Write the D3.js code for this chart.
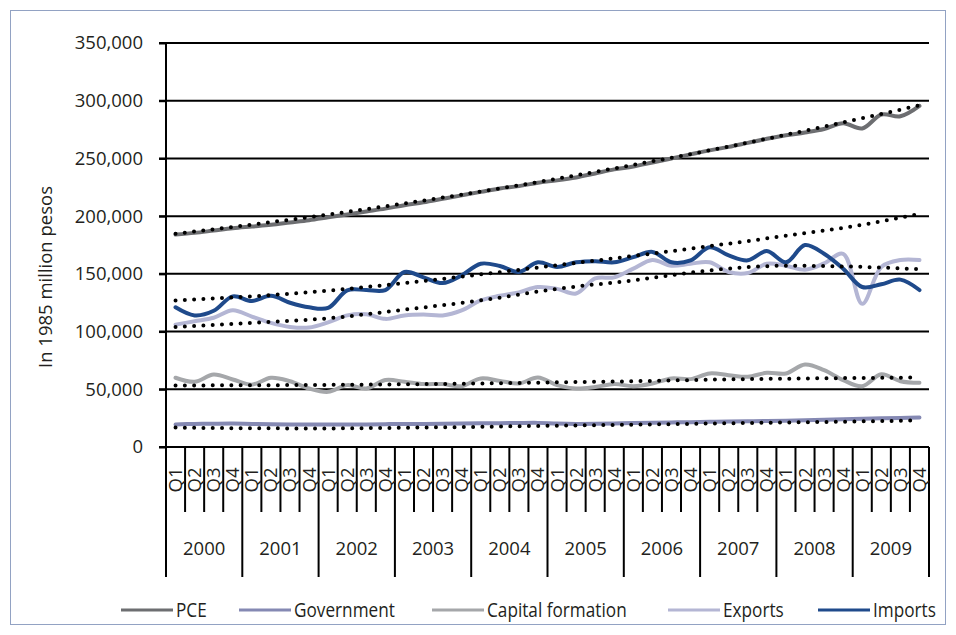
<!DOCTYPE html>
<html>
<head>
<meta charset="utf-8">
<script src="https://cdn.jsdelivr.net/npm/d3@7/dist/d3.min.js"></script>
<style>
  html, body { margin: 0; padding: 0; background: #fff; }
  svg { display: block; }
  text { font-family: "Open Sans", "Noto Sans", sans-serif; fill: #231f20; }
</style>
</head>
<body>
<svg id="chart" width="956" height="635"></svg>
<script>
// Quarterly components of GDP, 2000-2009 (1985 million pesos)
const years = [2000, 2001, 2002, 2003, 2004, 2005, 2006, 2007, 2008, 2009];
const quarterNames = ["Q1", "Q2", "Q3", "Q4"];
const yTicks = [0, 50000, 100000, 150000, 200000, 250000, 300000, 350000];

const pce = [
  184000, 185500, 187500, 189500, 191000, 192500, 194500, 196500,
  199000, 201500, 204000, 206500, 209500, 212000, 215000, 218000,
  221000, 224000, 226000, 229000, 231000, 233500, 237000, 240500,
  243000, 246500, 250000, 253500, 257000, 260000, 263500, 267000,
  270000, 272500, 275500, 280500, 276000, 288000, 286500, 295500
];
const government = [
  19500, 20000, 20200, 20300, 20000, 19800, 19600, 19500,
  19400, 19500, 19600, 19800, 19900, 20000, 20100, 20300,
  20500, 20600, 20800, 20900, 20300, 20000, 20100, 20400,
  20800, 21000, 21300, 21500, 21800, 22000, 22300, 22500,
  22800, 23200, 23600, 24000, 24400, 24800, 25200, 25600
];
const capitalFormation = [
  60000, 56500, 62800, 58500, 54000, 60000, 57000, 50700,
  47800, 53600, 50700, 58000, 56500, 54500, 54500, 52700,
  59400, 57300, 55000, 60200, 53600, 50700, 52000, 54500,
  52700, 55000, 59400, 58800, 63700, 62200, 60800, 64300,
  63700, 71500, 66600, 58000, 52700, 63000, 57000, 55600
];
const exportsSeries = [
  106000, 109000, 112000, 118400, 113000, 107500, 104000, 103500,
  108000, 114000, 115000, 111000, 114000, 114700, 114000, 118400,
  127000, 131000, 134000, 138600, 137000, 133000, 146000, 147000,
  154500, 162000, 157000, 158800, 160000, 151600, 150700, 158800,
  157000, 153600, 159000, 167400, 124000, 156000, 162000, 162000
];
const imports = [
  121000, 114000, 118000, 130500, 126500, 131000, 125000, 121000,
  120500, 135700, 136000, 136000, 151600, 147000, 142000, 148700,
  158800, 156800, 151600, 160000, 156000, 160000, 161000, 160000,
  164500, 169000, 160000, 161700, 173000, 166000, 161700, 169700,
  160000, 175000, 167400, 154500, 138600, 141000, 145000, 136000
];

// Trend lines, read at the first quarter of each year and at the last quarter
const trendAt = [0, 4, 8, 12, 16, 20, 24, 28, 32, 36, 39];
const pceTrend = [184700, 192700, 201400, 211000, 221300, 232400, 244400, 257000, 270500, 284800, 296000];
const upperTrend = [127000, 130500, 135500, 142000, 149500, 157500, 165500, 174000, 183000, 192500, 202000];
const lowerTrend = [104000, 107500, 111500, 119000, 127000, 137000, 144400, 153000, 157000, 156000, 154000];
const capitalTrend = [53300, 53500, 53800, 54300, 55000, 56000, 57000, 58300, 59200, 59800, 60200];
const governmentTrend = [16800, 16200, 16100, 16700, 17500, 18500, 19400, 20300, 21200, 22200, 23000];

const seriesNames = ["PCE", "Government", "Capital formation", "Exports", "Imports"];
const seriesColors = ["#6d6e71", "#8589b3", "#a5a7aa", "#b4b6d4", "#1f4a8b"];
const seriesValues = [pce, government, capitalFormation, exportsSeries, imports];
const trendValues = [pceTrend, upperTrend, lowerTrend, capitalTrend, governmentTrend];

const quarters = years.flatMap(y => quarterNames.map(q => `${y} ${q}`));

const svg = d3.select("#chart");
const plotLeft = 166, plotRight = 929, plotTop = 43, plotBottom = 447;

// frame
svg.append("rect")
  .attr("x", 10.5).attr("y", 10.5)
  .attr("width", 935).attr("height", 614)
  .attr("fill", "none").attr("stroke", "#92a2c3").attr("stroke-width", 1);

const x = d3.scaleBand().domain(quarters).range([plotLeft, plotRight]).paddingInner(0).paddingOuter(0);
const cx = q => x(q) + x.bandwidth() / 2;
const y = d3.scaleLinear().domain([0, 350000]).range([plotBottom, plotTop]);

// horizontal gridlines
svg.append("g")
  .selectAll("line")
  .data(yTicks)
  .join("line")
  .attr("x1", plotLeft - 7).attr("x2", plotRight)
  .attr("y1", d => y(d)).attr("y2", d => y(d))
  .attr("stroke", "#000").attr("stroke-width", 2);

// y axis with labels
const yAxis = d3.axisLeft(y).tickValues(yTicks).tickFormat(d3.format(","))
  .tickSize(7).tickSizeOuter(0).tickPadding(16);
const gy = svg.append("g").attr("transform", `translate(${plotLeft},0)`).call(yAxis);
gy.select(".domain").attr("stroke", "#000").attr("stroke-width", 2)
  .attr("d", `M0,${plotTop}V${plotBottom + 130}`);
gy.selectAll(".tick line").attr("stroke", "#000").attr("stroke-width", 2);
gy.selectAll(".tick text")
  .style("font-family", "'Open Sans', sans-serif")
  .style("font-size", "18.5px").attr("fill", "#231f20");

// y axis title
svg.append("text")
  .attr("transform", `translate(52, ${(plotTop + plotBottom) / 2 + 32}) rotate(-90)`)
  .attr("text-anchor", "middle")
  .style("font-size", "18.5px")
  .text("In 1985 million pesos");

// category axis: quarter ticks, year separators, labels
const xAxisG = svg.append("g");
xAxisG.selectAll("line.qtick")
  .data(quarters)
  .join("line")
  .attr("class", "qtick")
  .attr("x1", d => x(d)).attr("x2", d => x(d))
  .attr("y1", plotBottom)
  .attr("y2", (d, i) => i % 4 === 0 ? plotBottom + 130 : plotBottom + 65)
  .attr("stroke", "#000").attr("stroke-width", 2);
xAxisG.append("line")
  .attr("x1", plotRight).attr("x2", plotRight)
  .attr("y1", plotBottom).attr("y2", plotBottom + 130)
  .attr("stroke", "#000").attr("stroke-width", 2);

xAxisG.selectAll("text.qlabel")
  .data(quarters)
  .join("text")
  .attr("class", "qlabel")
  .attr("transform", d => `translate(${cx(d) + 6.5}, ${plotBottom + 33}) rotate(-90)`)
  .attr("text-anchor", "middle")
  .style("font-size", "18.5px")
  .text((d, i) => quarterNames[i % 4]);

xAxisG.selectAll("text.ylabel")
  .data(years)
  .join("text")
  .attr("class", "ylabel")
  .attr("x", (d, i) => (x(quarters[i * 4]) + x(quarters[i * 4 + 3]) + x.bandwidth()) / 2)
  .attr("y", plotBottom + 108)
  .attr("text-anchor", "middle")
  .style("font-size", "18.5px")
  .text(d => d);

// series lines
const line = d3.line()
  .x((d, i) => cx(quarters[i]))
  .y(d => y(d))
  .curve(d3.curveCatmullRom.alpha(0.5));

svg.append("g")
  .selectAll("path")
  .data(seriesValues)
  .join("path")
  .attr("d", d => line(d))
  .attr("fill", "none")
  .attr("stroke", (d, i) => seriesColors[i])
  .attr("stroke-width", 4)
  .attr("stroke-linejoin", "round")
  .attr("stroke-linecap", "round");

// dotted trend lines
const trendLine = d3.line()
  .x((d, i) => cx(quarters[trendAt[i]]))
  .y(d => y(d))
  .curve(d3.curveMonotoneX);

svg.append("g")
  .selectAll("path")
  .data(trendValues)
  .join("path")
  .attr("d", d => trendLine(d))
  .attr("fill", "none")
  .attr("stroke", "#000")
  .attr("stroke-width", 4)
  .attr("stroke-linecap", "round")
  .attr("stroke-dasharray", "0 9.3");

// legend (condensed type)
const legendX = [121, 239, 432, 668, 818];
const lg = svg.append("g").attr("class", "legend");
seriesNames.forEach((name, i) => {
  lg.append("line")
    .attr("x1", legendX[i]).attr("x2", legendX[i] + 52)
    .attr("y1", 610).attr("y2", 610)
    .attr("stroke", seriesColors[i]).attr("stroke-width", 3);
  lg.append("text")
    .attr("transform", `translate(${legendX[i] + 55}, 616.5) scale(0.86, 1)`)
    .style("font-size", "20px")
    .text(name);
});
</script>
</body>
</html>
